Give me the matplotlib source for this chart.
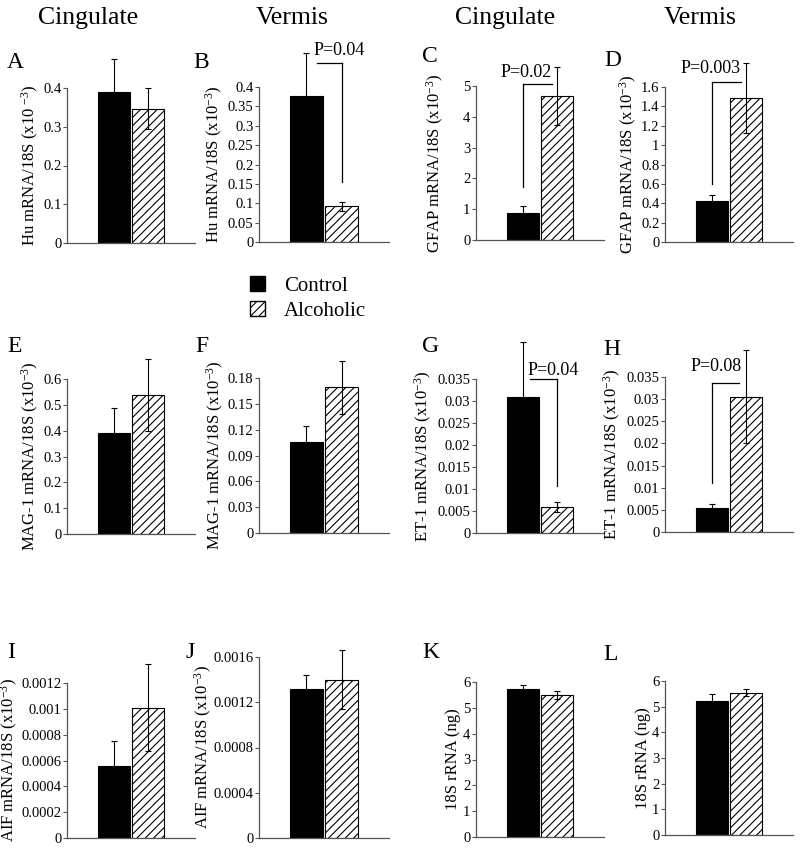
import matplotlib
matplotlib.use("Agg")
import matplotlib.pyplot as plt
from matplotlib.patches import Patch
import numpy as np

plt.rcParams['font.family'] = ['Liberation Serif', 'DejaVu Serif']
plt.rcParams['mathtext.fontset'] = 'custom'
plt.rcParams['mathtext.rm'] = 'Liberation Serif'
plt.rcParams['mathtext.it'] = 'Liberation Serif:italic'
plt.rcParams['hatch.linewidth'] = 0.8

# ---- data ----
panels = ['A', 'B', 'C', 'D', 'E', 'F', 'G', 'H', 'I', 'J', 'K', 'L']
groups = ['Control', 'Alcoholic']
control_mean = [0.39, 0.376, 0.885, 0.42, 0.39, 0.106, 0.0308, 0.0054, 0.00056, 0.00132, 5.73, 5.22]
control_err = [0.085, 0.113, 0.215, 0.07, 0.098, 0.018, 0.0125, 0.001, 0.00019, 0.00012, 0.17, 0.26]
alcoholic_mean = [0.347, 0.092, 4.68, 1.49, 0.538, 0.169, 0.0059, 0.0305, 0.00101, 0.0014, 5.51, 5.55]
alcoholic_err = [0.052, 0.012, 0.93, 0.36, 0.138, 0.031, 0.0011, 0.0105, 0.00034, 0.00026, 0.16, 0.12]
y_max = [0.4, 0.4, 5, 1.6, 0.6, 0.18, 0.035, 0.035, 0.0012, 0.0016, 6, 6]
y_step = [0.1, 0.05, 1, 0.2, 0.1, 0.03, 0.005, 0.005, 0.0002, 0.0004, 1, 1]
y_labels = [
    'Hu mRNA/18S (x10 $^{-3}$)', 'Hu mRNA/18S (x10$^{-3}$)',
    'GFAP mRNA/18S (x10$^{-3}$)', 'GFAP mRNA/18S (x10$^{-3}$)',
    'MAG-1 mRNA/18S (x10$^{-3}$)', 'MAG-1 mRNA/18S (x10$^{-3}$)',
    'ET-1 mRNA/18S (x10$^{-3}$)', 'ET-1 mRNA/18S (x10$^{-3}$)',
    'AIF mRNA/18S (x10$^{-3}$)', 'AIF mRNA/18S (x10$^{-3}$)',
    '18S rRNA (ng)', '18S rRNA (ng)']
column_titles = ['Cingulate', 'Vermis', 'Cingulate', 'Vermis']
p_labels = {'B': 'P=0.04', 'C': 'P=0.02', 'D': 'P=0.003', 'G': 'P=0.04', 'H': 'P=0.08'}

# ---- layout (pixels) ----
W, H = 800, 849
rects = {
    'A': (67, 88, 128, 155), 'B': (259, 87, 130, 155), 'C': (476, 86, 128, 154), 'D': (665, 87, 128, 155),
    'E': (67, 379, 128, 155), 'F': (259, 378, 130, 155), 'G': (476, 379, 128, 154), 'H': (665, 377, 128, 155),
    'I': (67, 683, 128, 155), 'J': (259, 657, 130, 181), 'K': (476, 682, 128, 155), 'L': (665, 681, 128, 154),
}
# right edge (px) of each rotated y label
label_right = {'A': 41, 'B': 225, 'C': 446, 'D': 639, 'E': 41, 'F': 226,
               'G': 434, 'H': 623, 'I': 20, 'J': 214, 'K': 461, 'L': 651}
letter_pos = {'A': (7, 62), 'B': (193, 62), 'C': (422, 56), 'D': (604, 61),
              'E': (7, 347), 'F': (195, 347), 'G': (422, 347), 'H': (603, 349),
              'I': (7, 653), 'J': (185, 653), 'K': (422, 652), 'L': (603, 654)}
# bracket specs: (y_horizontal, x_left, x_right, x_vertical, y_vertical_bottom, text_x, text_y, ha)
brackets = {
    'B': (0.462, 0.30, 1.0, 1.0, 0.155, 0.19, 0.495, 'left'),
    'C': (5.08, 0.0, 0.84, 0.0, 1.73, 0.84, 5.45, 'right'),
    'D': (1.65, 0.0, 0.84, 0.0, 0.60, 0.84, 1.79, 'right'),
    'G': (0.035, 0.22, 1.0, 1.0, 0.0106, 0.15, 0.0369, 'left'),
    'H': (0.0337, 0.0, 0.8, 0.0, 0.0111, 0.13, 0.0373, 'center'),
}

fig = plt.figure(figsize=(W / 100, H / 100), dpi=100)
spine_col = '#555555'

for i, p in enumerate(panels):
    x0, y0, w, h = rects[p]
    ax = fig.add_axes([x0 / W, 1 - (y0 + h) / H, w / W, h / H])
    ax.bar([0], [control_mean[i]], width=0.92, color='black', edgecolor='black', linewidth=0.8)
    ax.bar([1], [alcoholic_mean[i]], width=0.92, color='white', edgecolor='black',
           hatch='////', linewidth=0.8)
    ax.errorbar([0, 1], [control_mean[i], alcoholic_mean[i]],
                yerr=[control_err[i], alcoholic_err[i]], fmt='none',
                ecolor='black', elinewidth=0.8, capsize=2.5, capthick=0.8, zorder=5, clip_on=False)
    ax.set_xlim(-1.35, 2.35)
    ax.set_ylim(0, y_max[i])
    ticks = np.round(np.arange(0, y_max[i] + y_step[i] / 2, y_step[i]), 6)
    ax.set_yticks(ticks)
    ax.set_yticklabels([f'{t:g}' for t in ticks])
    ax.set_xticks([])
    for s in ['top', 'right']:
        ax.spines[s].set_visible(False)
    for s in ['left', 'bottom']:
        ax.spines[s].set_color(spine_col)
        ax.spines[s].set_linewidth(0.9)
    ax.tick_params(axis='y', direction='out', length=3, width=0.8, color=spine_col,
                   labelsize=10.5, pad=1)
    ax.set_ylabel(y_labels[i], fontsize=12)
    ax.yaxis.set_label_coords((label_right[p] - x0) / w, 0.5)
    ax.patch.set_alpha(0)
    if p in brackets:
        yh, xl, xr, xv, yb, tx, ty, ha = brackets[p]
        ax.plot([xl, xr], [yh, yh], color='black', lw=0.9, clip_on=False)
        ax.plot([xv, xv], [yh, yb], color='black', lw=0.9, clip_on=False)
        ax.text(tx, ty, p_labels[p], ha=ha, va='center', fontsize=13, clip_on=False)
    lx, ly = letter_pos[p]
    fig.text(lx / W, 1 - ly / H, p, fontsize=17, ha='left', va='center')

for cx, t in zip([88, 292, 505, 700], column_titles):
    fig.text(cx / W, 1 - 18 / H, t, fontsize=18.5, ha='center', va='center')

handles = [Patch(facecolor='black', edgecolor='black', label=groups[0]),
           Patch(facecolor='white', edgecolor='black', hatch='////', label=groups[1])]
fig.legend(handles=handles, loc='upper left', bbox_to_anchor=(242 / W, 1 - 268 / H),
           frameon=False, fontsize=15, handlelength=0.7, handleheight=0.7,
           handletextpad=0.9, labelspacing=0.25, borderaxespad=0)

fig.savefig('out.png', dpi=100)
